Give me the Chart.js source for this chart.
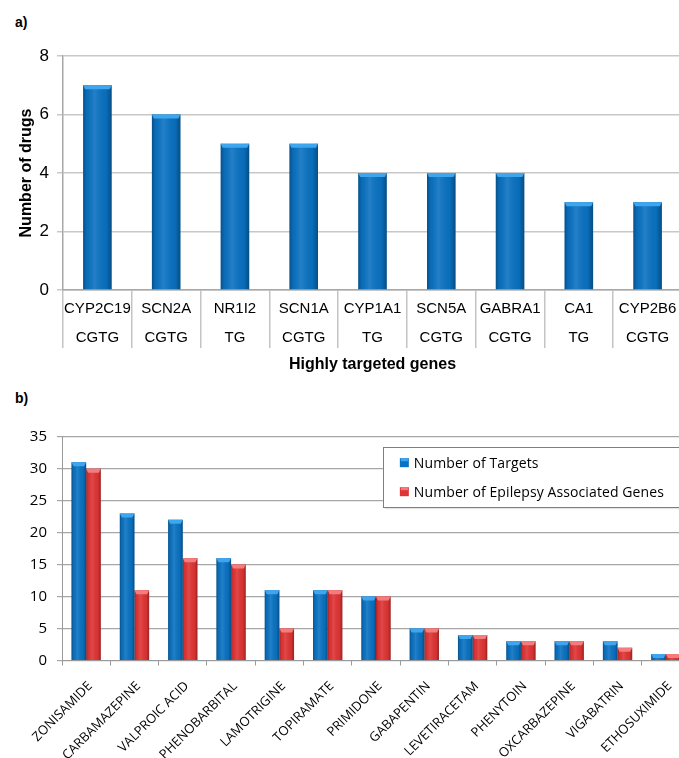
<!DOCTYPE html>
<html><head><meta charset="utf-8">
<script src="https://cdn.jsdelivr.net/npm/chart.js@4"></script>
<style>
html,body{margin:0;padding:0;background:#fff;overflow:hidden;width:679px;height:758px;}
#wrap{position:relative;width:679px;height:758px;overflow:hidden;background:#fff;}
.lbl{position:absolute;font-family:"Liberation Sans",Arial,sans-serif;font-weight:bold;font-size:14px;line-height:16px;color:#000;}
.cw{position:absolute;left:0;}
</style></head>
<body><div id="wrap">
<div class="lbl" style="left:15px;top:14px">a)</div>
<div class="lbl" style="left:15px;top:390px">b)</div>
<div class="cw" style="top:0;width:682px;height:378px"><canvas id="chartA" width="682" height="378"></canvas></div>
<div class="cw" style="top:380px;width:690px;height:378px"><canvas id="chartB" width="690" height="378"></canvas></div>
</div>
<script>
// ---- Data: panel a ----
const genes = ['CYP2C19','SCN2A','NR1I2','SCN1A','CYP1A1','SCN5A','GABRA1','CA1','CYP2B6'];
const geneTypes = ['CGTG','CGTG','TG','CGTG','TG','CGTG','CGTG','TG','CGTG'];
const drugCounts = [7,6,5,5,4,4,4,3,3];
const yTicksA = [0,2,4,6,8];

// ---- Data: panel b ----
const drugs = ['ZONISAMIDE','CARBAMAZEPINE','VALPROIC ACID','PHENOBARBITAL','LAMOTRIGINE','TOPIRAMATE','PRIMIDONE','GABAPENTIN','LEVETIRACETAM','PHENYTOIN','OXCARBAZEPINE','VIGABATRIN','ETHOSUXIMIDE'];
const targets = [31,23,22,16,11,11,10,5,4,3,3,3,1];
const epilepsyGenes = [30,11,16,15,5,11,10,5,4,3,3,2,1];
const yTicksB = [0,5,10,15,20,25,30,35];

const bevelPlugin = {
  id: 'bevel',
  afterDatasetsDraw(chart) {
    const ctx = chart.ctx;
    chart.data.datasets.forEach((ds, di) => {
      const meta = chart.getDatasetMeta(di);
      meta.data.forEach(el => {
        const p = el.getProps(['x','y','base','width'], true);
        const l = p.x - p.width/2, r = p.x + p.width/2;
        const t = Math.min(p.y, p.base), b = Math.max(p.y, p.base);
        if (b - t <= 0) return;
        ctx.save();
        const g = ctx.createLinearGradient(l, 0, r, 0);
        g.addColorStop(0, 'rgba(0,0,0,0.30)');
        g.addColorStop(0.12, 'rgba(0,0,0,0.06)');
        g.addColorStop(0.4, 'rgba(255,255,255,0.10)');
        g.addColorStop(0.8, 'rgba(0,0,0,0.04)');
        g.addColorStop(1, 'rgba(0,0,0,0.32)');
        ctx.fillStyle = g;
        ctx.fillRect(l, t, r - l, b - t);
        const capH = Math.min(4, b - t);
        ctx.fillStyle = ds.capColor;
        ctx.beginPath();
        ctx.moveTo(l, t); ctx.lineTo(r, t);
        ctx.lineTo(r - 2, t + capH); ctx.lineTo(l + 2, t + capH);
        ctx.closePath(); ctx.fill();
        ctx.restore();
      });
    });
  }
};

const boxLegend = {
  id: 'boxLegend',
  afterDraw(chart, args, opts) {
    if (!opts || !opts.font) return;
    const {ctx, chartArea} = chart;
    ctx.save();
    ctx.font = opts.font;
    if ('letterSpacing' in ctx) ctx.letterSpacing = opts.spacing || '0px';
    const items = chart.data.datasets.map(d => ({text: d.label, color: d.backgroundColor, cap: d.capColor}));
    const tw = Math.max(...items.map(i => ctx.measureText(i.text).width));
    const padL = 17, sw = 9, gap = 5, padR = 15;
    const w = padL + sw + gap + tw + padR;
    const h = 60;
    const right = chartArea.right - 11;
    const left = right - w;
    const top = chartArea.top + 10.5;
    ctx.fillStyle = 'rgba(0,0,0,0.10)';
    ctx.fillRect(left + 2, top + 2, w, h);
    ctx.fillStyle = '#fff';
    ctx.fillRect(left, top, w, h);
    ctx.strokeStyle = '#7f7f7f';
    ctx.lineWidth = 1;
    ctx.strokeRect(Math.round(left) + 0.5, Math.round(top) + 0.5, Math.round(w), h);
    items.forEach((it, i) => {
      const cy = top + 15.5 + i * 29;
      const sx = left + padL;
      ctx.fillStyle = it.color;
      ctx.fillRect(sx, cy - 4.5, sw, sw);
      ctx.fillStyle = it.cap;
      ctx.fillRect(sx + 1, cy - 4.5, sw - 2, 3);
      ctx.fillStyle = '#000';
      ctx.textBaseline = 'middle';
      ctx.textAlign = 'left';
      ctx.fillText(it.text, sx + sw + gap, cy + 1);
    });
    ctx.restore();
  }
};

Chart.defaults.font.family = '"Liberation Sans", Arial, sans-serif';
Chart.defaults.color = '#000';

new Chart(document.getElementById('chartA'), {
  type: 'bar',
  data: {
    labels: genes.map((g, i) => [g, geneTypes[i]]),
    datasets: [{
      label: 'Number of drugs',
      data: drugCounts,
      backgroundColor: '#0a72c2',
      capColor: '#3ea6ee',
      categoryPercentage: 1,
      barPercentage: 0.415
    }]
  },
  options: {
    responsive: false,
    animation: false,
    layout: {padding: {top: 56, left: 0, right: 0, bottom: 0}},
    plugins: {legend: {display: false}, tooltip: {enabled: false}},
    scales: {
      x: {
        grid: {drawOnChartArea: false, drawTicks: true, tickLength: 58, color: '#c4c4c4', lineWidth: 1.5, offset: true},
        border: {color: '#a8a8a8', width: 1.5},
        ticks: {autoSkip: false, maxRotation: 0, minRotation: 0, padding: -53.5,
                font: {size: 15, lineHeight: '29px'}, color: '#000'},
        title: {display: true, text: 'Highly targeted genes', font: {size: 16, weight: 'bold'}, color: '#000', padding: {top: 0, bottom: 4}},
        afterFit: s => { s.height = 88; s.paddingLeft = 0; s.paddingRight = 0; }
      },
      y: {
        min: 0, max: 8,
        afterBuildTicks: s => { s.ticks = yTicksA.map(v => ({value: v})); },
        grid: {color: '#c8c8c8', lineWidth: 1.5, tickLength: 6},
        border: {color: '#a8a8a8', width: 1.5},
        ticks: {font: {size: 17}, padding: 8, color: '#000'},
        title: {display: true, text: 'Number of drugs', font: {size: 16, weight: 'bold'}, color: '#000', padding: {top: 17, bottom: 0}},
        afterFit: s => { s.width = 63; s.paddingTop = 0; s.paddingBottom = 0; }
      }
    }
  },
  plugins: [bevelPlugin]
});

new Chart(document.getElementById('chartB'), {
  type: 'bar',
  data: {
    labels: drugs,
    datasets: [
      {label: 'Number of Targets', data: targets, backgroundColor: '#0a72c2', capColor: '#3ea6ee', categoryPercentage: 0.607, barPercentage: 1},
      {label: 'Number of Epilepsy Associated Genes', data: epilepsyGenes, backgroundColor: '#e03434', capColor: '#f37c7c', categoryPercentage: 0.607, barPercentage: 1}
    ]
  },
  options: {
    responsive: false,
    animation: false,
    layout: {padding: {top: 56.7, left: 0, right: 0, bottom: 0}},
    plugins: {legend: {display: false}, tooltip: {enabled: false}, boxLegend: {font: '14px "Open Sans"', spacing: '0.1px'}},
    scales: {
      x: {
        grid: {drawOnChartArea: false, tickLength: 5, color: '#9a9a9a', offset: true},
        border: {color: '#9a9a9a'},
        ticks: {autoSkip: false, minRotation: 45, maxRotation: 45, padding: 13, labelOffset: 4,
                font: {family: '"Open Sans"', size: 13}, color: '#000'},
        afterFit: s => { s.height = 97.5; s.paddingLeft = 0; s.paddingRight = 0; }
      },
      y: {
        min: 0, max: 35,
        afterBuildTicks: s => { s.ticks = yTicksB.map(v => ({value: v})); },
        grid: {color: '#a6a6a6', lineWidth: 1.2, tickLength: 5},
        border: {color: '#9a9a9a'},
        ticks: {font: {family: '"Open Sans"', size: 15}, padding: 10, color: '#000'},
        afterFit: s => { s.width = 62; s.paddingTop = 0; s.paddingBottom = 0; }
      }
    }
  },
  plugins: [bevelPlugin, boxLegend]
});
</script>
</body></html>
